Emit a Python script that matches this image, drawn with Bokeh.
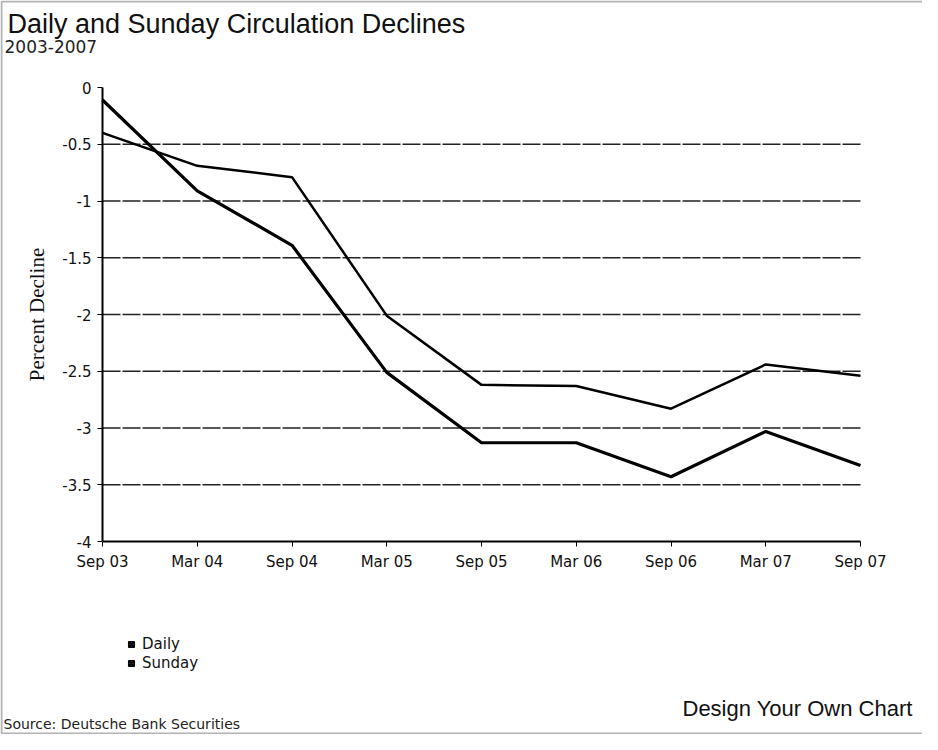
from bokeh.plotting import figure
from bokeh.models import (Range1d, FixedTicker, NumeralTickFormatter, Label, Legend,
                          LegendItem, ColumnDataSource, BoxAnnotation)
from bokeh.embed import file_html
from bokeh.resources import INLINE

# ---- data ----
periods = ["Sep 03", "Mar 04", "Sep 04", "Mar 05", "Sep 05", "Mar 06", "Sep 06", "Mar 07", "Sep 07"]
daily = [-0.40, -0.69, -0.79, -2.01, -2.62, -2.63, -2.83, -2.44, -2.54]
sunday = [-0.11, -0.91, -1.39, -2.51, -3.13, -3.13, -3.43, -3.03, -3.33]
y_ticks = [0, -0.5, -1, -1.5, -2, -2.5, -3, -3.5, -4]
grid_levels = [-0.5, -1, -1.5, -2, -2.5, -3, -3.5]

title_text = "Daily and Sunday Circulation Declines"
subtitle_text = "2003-2007"
source_text = "Source: Deutsche Bank Securities"
link_text = "Design Your Own Chart"

# ---- layout (pixels) ----
W, H = 922, 734
PL, PR, PT, PB = 102, 62, 87, 193          # chart area margins inside the canvas

x_idx = list(range(len(periods)))
x_lo, x_hi = x_idx[0], x_idx[-1]
y_lo, y_hi = min(y_ticks), max(y_ticks)
ux = (W - PL - PR) / (x_hi - x_lo)           # px per x unit
uy = (H - PT - PB) / (y_hi - y_lo)           # px per y unit

src = ColumnDataSource(dict(x=x_idx, daily=daily, sunday=sunday))
grid_src = ColumnDataSource(dict(x0=[x_lo] * len(grid_levels),
                                 x1=[x_hi + 2 / ux] * len(grid_levels),
                                 y=grid_levels))

p = figure(width=W, height=H, output_backend="svg", toolbar_location=None,
           x_range=Range1d(x_lo - PL / ux, x_hi + PR / ux),
           y_range=Range1d(y_lo - PB / uy, y_hi + PT / uy),
           min_border=0, min_border_left=0, min_border_right=0,
           min_border_top=0, min_border_bottom=0)
p.outline_line_color = None
p.background_fill_color = "white"
p.border_fill_color = "white"
p.xgrid.grid_line_color = None
p.ygrid.grid_line_color = None

# axes placed inside the canvas at the chart's edges
p.xaxis.fixed_location = y_lo
p.yaxis.fixed_location = x_lo
p.xaxis.bounds = (x_lo, x_hi)
p.yaxis.bounds = (y_lo, y_hi)
p.xaxis.ticker = FixedTicker(ticks=x_idx)
p.xaxis.major_label_overrides = {i: lab for i, lab in enumerate(periods)}
p.yaxis.ticker = FixedTicker(ticks=y_ticks)
p.yaxis.formatter = NumeralTickFormatter(format="0.[0]")
for ax in (p.xaxis[0], p.yaxis[0]):
    ax.axis_line_color = "black"
    ax.axis_line_width = 2
    ax.major_tick_line_color = "black"
    ax.major_tick_out = 5
    ax.major_tick_in = 0
    ax.minor_tick_line_color = None
    ax.major_label_text_font = "DejaVu Sans"
    ax.major_label_text_font_size = "15px"
    ax.major_label_text_color = "#111111"
    ax.major_label_standoff = 6
p.yaxis.axis_label = "Percent Decline"
p.yaxis.axis_label_text_font = "Liberation Serif"
p.yaxis.axis_label_text_font_size = "21px"
p.yaxis.axis_label_text_font_style = "normal"
p.yaxis.axis_label_text_color = "#111111"
p.yaxis.axis_label_standoff = 10

# horizontal grid lines over the chart width only
p.segment(x0="x0", x1="x1", y0="y", y1="y", source=grid_src,
          line_color="#222222", line_width=1.3, line_dash="18 2")

p.line("x", "daily", source=src, line_color="black", line_width=2.5)
p.line("x", "sunday", source=src, line_color="black", line_width=3.2)

# legend proxies (square icons)
lg_d = p.scatter("x", "daily", source=src, marker="square_x", size=14,
                 fill_color="#555555", line_color="black", line_width=1.5, visible=False)
lg_s = p.scatter("x", "sunday", source=src, marker="square_x", size=14,
                 fill_color="#555555", line_color="black", line_width=1.5, visible=False)
legend = Legend(items=[LegendItem(label="Daily", renderers=[lg_d]),
                       LegendItem(label="Sunday", renderers=[lg_s])],
                location=(124, 62), orientation="vertical",
                label_text_font="DejaVu Sans", label_text_font_size="15px",
                label_text_color="#111111",
                glyph_width=14, glyph_height=14, label_standoff=4, spacing=1,
                padding=0, margin=0, border_line_color=None, background_fill_alpha=0,
                label_height=17)
p.add_layout(legend, "center")

# texts (screen units: x from left, y from bottom of the canvas)
def note(x, y_from_top, text, font, size, color="#111111"):
    p.add_layout(Label(x=x, y=H - y_from_top, x_units="screen", y_units="screen",
                       text=text, text_font=font, text_font_size=size,
                       text_color=color, text_baseline="alphabetic"))

note(7, 23, title_text, "Liberation Sans", "27px")
note(4, 46, subtitle_text, "DejaVu Sans", "17px", "#222222")
note(682, 708, link_text, "Liberation Sans", "22px")
note(3, 723, source_text, "DejaVu Sans", "14px", "#222222")

# scanned page frame (left, top, bottom edges)
p.add_layout(BoxAnnotation(left=1, right=W + 10, bottom=1, top=H - 1,
                           left_units="screen", right_units="screen",
                           top_units="screen", bottom_units="screen",
                           fill_alpha=0, line_color="black", line_width=2))

open("out.html", "w").write(file_html(p, INLINE))
